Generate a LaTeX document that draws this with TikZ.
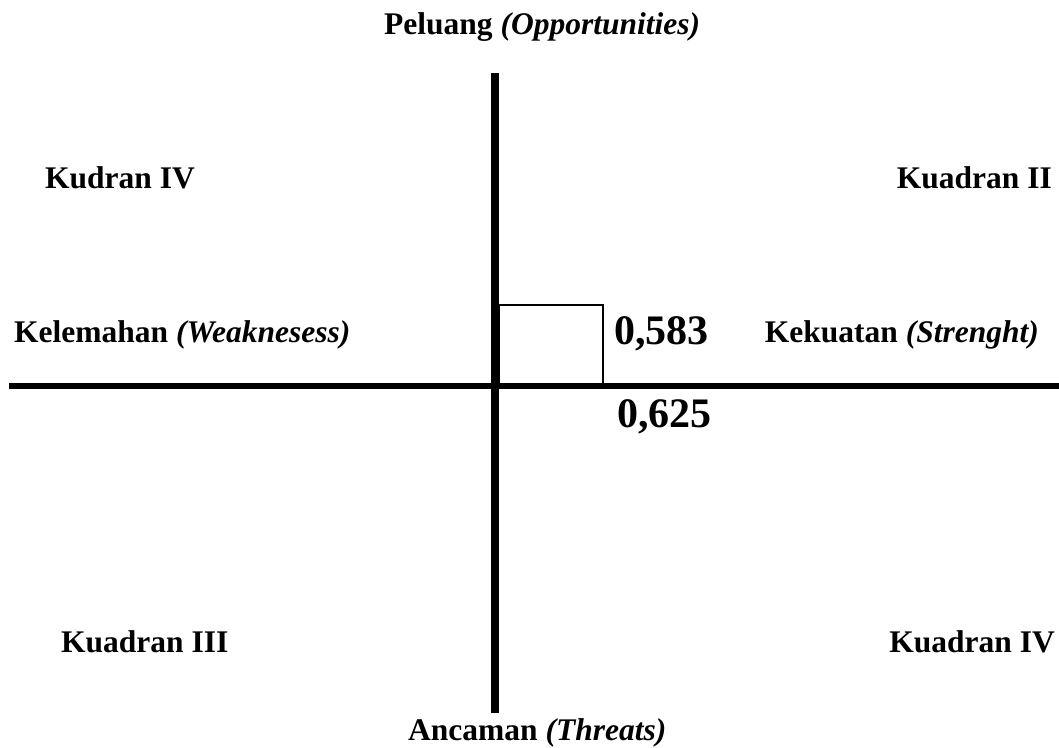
\documentclass[tikz,border=0pt]{standalone}
\usepackage{fontspec}
\setmainfont{Liberation Serif}
\tikzset{
  lbl/.style={inner sep=0pt, font=\fontsize{31.5}{36}\selectfont\bfseries},
  num/.style={inner sep=0pt, font=\fontsize{42}{48}\selectfont\bfseries},
  axisv/.style={line width=8pt},
  axish/.style={line width=6pt},
  thinbox/.style={line width=1.3pt}
}
\begin{document}
\begin{tikzpicture}[x=1pt,y=-1pt]
\useasboundingbox (0,0) rectangle (1059,747);
% axes
\coordinate (vtop) at (495,73);
\coordinate (vbot) at (495,713);
\coordinate (hleft) at (9,386);
\coordinate (hright) at (1059,386);
\draw[axish] (hleft) -- (hright);
\draw[axisv] (vtop) -- (vbot);
% small box
\coordinate (boxa) at (499,383);
\coordinate (boxb) at (603,305);
\draw[thinbox] (boxa) |- (boxb) -- (boxb |- boxa);
% labels
\node[lbl, anchor=base west] (peluang) at (384,34) {Peluang \textit{(Opportunities)}};
\node[lbl, anchor=base west] (kudran) at (45,188) {Kudran IV};
\node[lbl, anchor=base east] (kuadranII) at (1052,188) {Kuadran II};
\node[lbl, anchor=base west] (kelemahan) at (14,342) {Kelemahan \textit{(Weaknesess)}};
\node[num, anchor=base west] (n583) at (614,344) {0,583};
\node[lbl, anchor=base east] (kekuatan) at (1039,342) {Kekuatan \textit{(Strenght)}};
\node[num, anchor=base west] (n625) at (617,427) {0,625};
\node[lbl, anchor=base west] (kuadranIII) at (61,652) {Kuadran III};
\node[lbl, anchor=base east] (kuadranIV) at (1055,652) {Kuadran IV};
\node[lbl, anchor=base west] (ancaman) at (408,740) {Ancaman \textit{(Threats)}};
\end{tikzpicture}
\end{document}
